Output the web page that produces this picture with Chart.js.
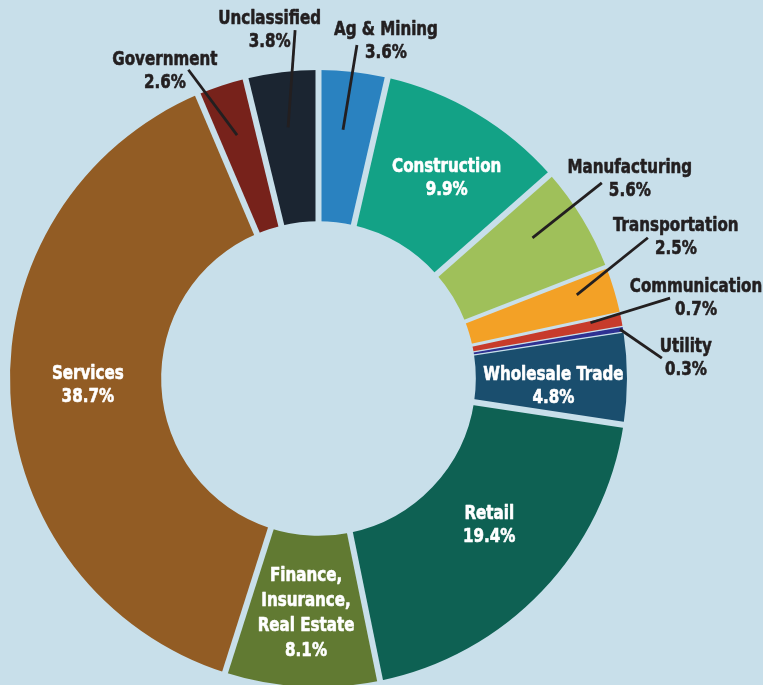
<!DOCTYPE html>
<html><head><meta charset="utf-8">
<script src="https://cdn.jsdelivr.net/npm/chart.js@4/dist/chart.umd.min.js"></script>
<style>
html,body{margin:0;padding:0;background:#c8dfea;overflow:hidden;}
#wrap{position:relative;width:763px;height:700px;}
</style></head><body>
<div id="wrap"><canvas id="c"></canvas></div>
<script>
// ---- data ----
const categories = ["Ag & Mining","Construction","Manufacturing","Transportation","Communication","Utility","Wholesale Trade","Retail","Finance, Insurance, Real Estate","Services","Government","Unclassified"];
const labelLines = [["Ag & Mining"],["Construction"],["Manufacturing"],["Transportation"],["Communication"],["Utility"],["Wholesale Trade"],["Retail"],["Finance,","Insurance,","Real Estate"],["Services"],["Government"],["Unclassified"]];
const shares = [3.6, 9.9, 5.6, 2.5, 0.7, 0.3, 4.8, 19.4, 8.1, 38.7, 2.6, 3.8];
const sliceColors = ["#2a82c0","#13a286","#9fc05a","#f3a126","#c73b2b","#2e3192","#1a4e6e","#0e6153","#617a32","#925c24","#77221b","#1b2531"];

// ---- styling / layout (not data) ----
const BG = "#c8dfea";
const DARK = "#231f20";
const FONT = 'bold 20px "Liberation Sans Narrow", "DejaVu Sans Condensed", "Roboto", sans-serif';
const TEXT_SX = 0.84;
const gapWidths = [6, 6, 6, 4, 3, 1.2, 1.2, 6, 6, 6, 6, 6];
// outside labels with leader lines: radii as fraction of outer radius, angle deltas in degrees
const callouts = {
  0:  {inR:0.81, inDa:-0.85, outR:1.088, outDa:0.1,  dx:29,   dy:-6},
  2:  {inR:0.83, inDa:-2.0,  outR:1.116, outDa:-3.3, dx:28,   dy:-5.5},
  3:  {inR:0.88, inDa:-1.2,  outR:1.161, outDa:-6.4, dx:28,   dy:-2},
  4:  {inR:0.90, inDa:-0.6,  outR:1.169, outDa:-1.9, dx:26,   dy:-2},
  5:  {inR:0.99, inDa:-0.1,  outR:1.115, outDa:5.8,  dx:24,   dy:-2},
  10: {inR:0.832,inDa:-0.14, outR:1.086, outDa:-4.5, dx:-23.5,dy:0},
  11: {inR:0.82, inDa:-0.06, outR:1.132, outDa:3.0,  dx:-25.5,dy:-1.5}
};
const insideNudge = {1:[9,-2], 6:[2,6], 7:[2,-16], 8:[0,0], 9:[2,-6]};

function drawBlock(ctx, lines, cx, cy, lh, color){
  ctx.fillStyle = color;
  ctx.strokeStyle = color;
  ctx.lineWidth = 0.6;
  ctx.lineJoin = "round";
  ctx.font = FONT;
  ctx.textAlign = "center";
  ctx.textBaseline = "alphabetic";
  const n = lines.length;
  lines.forEach((t, k) => {
    const mid = cy + (k - (n - 1) / 2) * lh;
    ctx.save();
    ctx.translate(cx, mid + 7);
    ctx.scale(TEXT_SX, 1);
    ctx.fillText(t, 0, 0);
    ctx.strokeText(t, 0, 0);
    ctx.restore();
  });
}

const deco = {
  id: "deco",
  afterDatasetsDraw(chart){
    const ctx = chart.ctx;
    const meta = chart.getDatasetMeta(0);
    ctx.save();
    meta.data.forEach((arc, i) => {
      const p = arc.getProps(["x","y","startAngle","innerRadius","outerRadius"], true);
      ctx.strokeStyle = BG; ctx.lineWidth = gapWidths[i]; ctx.lineCap = "butt";
      ctx.beginPath();
      ctx.moveTo(p.x + Math.cos(p.startAngle) * (p.innerRadius - 3), p.y + Math.sin(p.startAngle) * (p.innerRadius - 3));
      ctx.lineTo(p.x + Math.cos(p.startAngle) * (p.outerRadius + 3), p.y + Math.sin(p.startAngle) * (p.outerRadius + 3));
      ctx.stroke();
    });
    meta.data.forEach((arc, i) => {
      const p = arc.getProps(["x","y","startAngle","endAngle","innerRadius","outerRadius"], true);
      const mid = (p.startAngle + p.endAngle) / 2;
      const lines = labelLines[i].concat([shares[i].toFixed(1) + "%"]);
      const co = callouts[i];
      if (co) {
        const a1 = mid + co.inDa * Math.PI / 180, a2 = mid + co.outDa * Math.PI / 180;
        const x1 = p.x + Math.cos(a1) * co.inR * p.outerRadius, y1 = p.y + Math.sin(a1) * co.inR * p.outerRadius;
        const x2 = p.x + Math.cos(a2) * co.outR * p.outerRadius, y2 = p.y + Math.sin(a2) * co.outR * p.outerRadius;
        ctx.strokeStyle = DARK; ctx.lineWidth = 2.8; ctx.lineCap = "butt";
        ctx.beginPath(); ctx.moveTo(x1, y1); ctx.lineTo(x2, y2); ctx.stroke();
        drawBlock(ctx, lines, x2 + co.dx, y2 + co.dy, 23, DARK);
      } else {
        const r = (p.innerRadius + p.outerRadius) / 2;
        const nd = insideNudge[i] || [0,0];
        const cx = p.x + Math.cos(mid) * r + nd[0], cy = p.y + Math.sin(mid) * r + nd[1];
        drawBlock(ctx, lines, cx, cy, lines.length > 2 ? 25 : 23, "#ffffff");
      }
    });
    ctx.restore();
  }
};

new Chart(document.getElementById("c"), {
  type: "doughnut",
  data: {
    labels: categories,
    datasets: [{
      data: shares,
      backgroundColor: sliceColors,
      borderWidth: 0
    }]
  },
  options: {
    responsive: true,
    maintainAspectRatio: false,
    animation: false,
    cutout: "51%",
    layout: { padding: { left: 10, top: 70, right: 136, bottom: 13 } },
    plugins: { legend: { display: false }, tooltip: { enabled: false } }
  },
  plugins: [deco]
});
</script>
</body></html>
